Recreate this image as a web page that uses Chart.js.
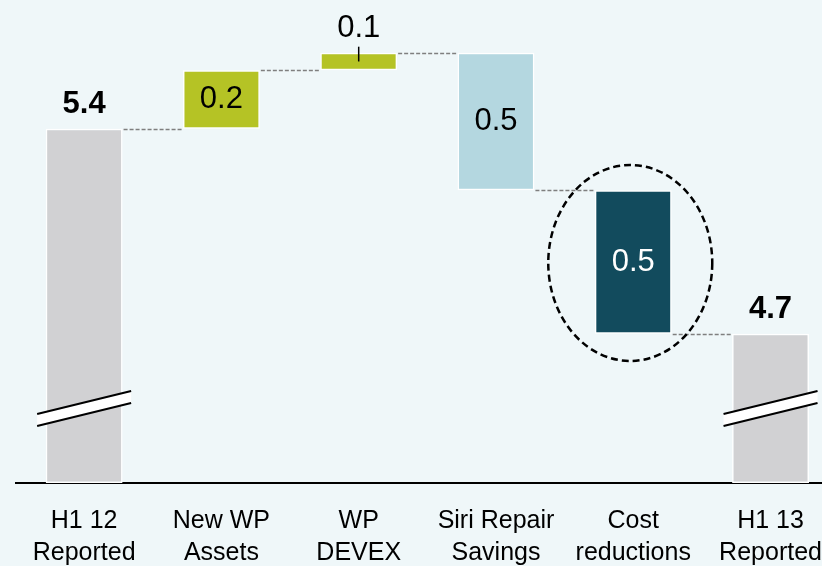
<!DOCTYPE html>
<html>
<head>
<meta charset="utf-8">
<script src="https://cdn.jsdelivr.net/npm/chart.js@4.4.1/dist/chart.umd.min.js"></script>
<style>
  html, body { margin: 0; padding: 0; background: #eff7f9; overflow: hidden; }
  /* the last category runs past the right edge of the picture */
  #wrap { width: 844px; height: 566px; position: relative; }
</style>
</head>
<body>
<div id="wrap"><canvas id="chart"></canvas></div>
<script>
// --- data ---
const categories = [
  ['H1 12', 'Reported'],
  ['New WP', 'Assets'],
  ['WP', 'DEVEX'],
  ['Siri Repair', 'Savings'],
  ['Cost', 'reductions'],
  ['H1 13', 'Reported']
];
const axisMin = 4.19;   // broken axis, bars do not start at zero
const axisMax = 5.84;
const barFrom = [axisMin, 5.40, 5.60, 5.19, 4.70, axisMin];
const barTo   = [5.40,    5.60, 5.66, 5.66, 5.19, 4.70];
const valueLabels = ['5.4', '0.2', '0.1', '0.5', '0.5', '4.7'];
const isTotal = [true, false, false, false, false, true];
const barColors = ['#d1d1d3', '#b5c325', '#b5c325', '#b4d7e0', '#124b5d', '#d1d1d3'];
const highlightIndex = 4;

const FONT = '"Liberation Sans", Arial, sans-serif';

// фон
const bgPlugin = {
  id: 'bg',
  beforeDraw(chart) {
    const ctx = chart.ctx;
    ctx.save();
    ctx.fillStyle = '#eff7f9';
    ctx.fillRect(0, 0, chart.width, chart.height);
    ctx.restore();
  }
};

// пунктирные соединители, значения, разрывы, эллипс
const decorPlugin = {
  id: 'decor',
  afterDatasetsDraw(chart) {
    const ctx = chart.ctx;
    const y = chart.scales.y;
    const bars = chart.getDatasetMeta(0).data;

    // connectors
    ctx.save();
    ctx.strokeStyle = '#7f7f7f';
    ctx.lineWidth = 1.5;
    ctx.setLineDash([4, 2]);
    for (let i = 0; i < bars.length - 1; i++) {
      const a = bars[i], b = bars[i + 1];
      const level = isTotal[i] ? barTo[i] : (barFrom[i + 1] === barTo[i] || barTo[i + 1] === barTo[i] ? barTo[i] : barFrom[i]);
      const py = Math.round(y.getPixelForValue(level)) + 0.5;
      ctx.beginPath();
      ctx.moveTo(a.x + a.width / 2 + 1, py);
      ctx.lineTo(b.x - b.width / 2 - 1, py);
      ctx.stroke();
    }
    ctx.restore();

    // breaks on the total bars
    bars.forEach((bar, i) => {
      if (!isTotal[i]) return;
      const base = y.getPixelForValue(axisMin);
      const x0 = bar.x - 47, x1 = bar.x + 47;
      const yl = base - 69, yr = base - 92, h = 12;
      ctx.save();
      ctx.fillStyle = '#ffffff';
      ctx.beginPath();
      ctx.moveTo(x0, yl); ctx.lineTo(x1, yr); ctx.lineTo(x1, yr + h); ctx.lineTo(x0, yl + h);
      ctx.closePath();
      ctx.fill();
      ctx.strokeStyle = '#000';
      ctx.lineWidth = 2;
      ctx.beginPath();
      ctx.moveTo(x0, yl); ctx.lineTo(x1, yr);
      ctx.moveTo(x0, yl + h); ctx.lineTo(x1, yr + h);
      ctx.stroke();
      ctx.restore();
    });

    // value labels
    bars.forEach((bar, i) => {
      const top = y.getPixelForValue(barTo[i]);
      const bottom = y.getPixelForValue(barFrom[i]);
      ctx.save();
      ctx.textAlign = 'center';
      ctx.textBaseline = 'middle';
      if (isTotal[i]) {
        ctx.font = 'bold 31px ' + FONT;
        ctx.fillStyle = '#000';
        ctx.fillText(valueLabels[i], bar.x, top - 24);
      } else if (bottom - top < 30) {
        ctx.font = '31px ' + FONT;
        ctx.fillStyle = '#000';
        ctx.fillText(valueLabels[i], bar.x, top - 24);
        ctx.strokeStyle = '#000';
        ctx.lineWidth = 1.5;
        ctx.beginPath();
        ctx.moveTo(bar.x, top - 6);
        ctx.lineTo(bar.x, (top + bottom) / 2);
        ctx.stroke();
      } else {
        ctx.font = '31px ' + FONT;
        ctx.fillStyle = i === highlightIndex ? '#ffffff' : '#000';
        ctx.fillText(valueLabels[i], bar.x, (top + bottom) / 2);
      }
      ctx.restore();
    });

    // dashed ellipse round the highlighted bar
    const hb = bars[highlightIndex];
    const cy = (y.getPixelForValue(barTo[highlightIndex]) + y.getPixelForValue(barFrom[highlightIndex])) / 2;
    ctx.save();
    ctx.strokeStyle = '#000';
    ctx.lineWidth = 2.5;
    ctx.setLineDash([7, 4]);
    ctx.beginPath();
    ctx.ellipse(hb.x - 3, cy + 1, 82, 98, 0, 0, Math.PI * 2);
    ctx.stroke();
    ctx.restore();
  }
};

new Chart(document.getElementById('chart'), {
  type: 'bar',
  data: {
    labels: categories,
    datasets: [{
      data: barFrom.map((v, i) => [v, barTo[i]]),
      backgroundColor: barColors,
      borderColor: '#ffffff',
      borderWidth: 1.5,
      borderSkipped: false,
      barPercentage: 0.56,
      categoryPercentage: 1
    }]
  },
  options: {
    responsive: true,
    maintainAspectRatio: false,
    animation: false,
    layout: { padding: { left: 15.5, right: 0.5, top: 0, bottom: 0 } },
    plugins: { legend: { display: false }, tooltip: { enabled: false } },
    scales: {
      y: { display: false, min: axisMin, max: axisMax },
      x: {
        afterFit: s => { s.height = 83; },
        grid: { display: false, drawTicks: false },
        border: { display: true, color: '#000', width: 2 },
        ticks: {
          color: '#000',
          padding: 22,
          maxRotation: 0,
          autoSkip: false,
          font: { family: FONT, size: 25, lineHeight: 1.28 }
        }
      }
    }
  },
  plugins: [bgPlugin, decorPlugin]
});
</script>
</body>
</html>
